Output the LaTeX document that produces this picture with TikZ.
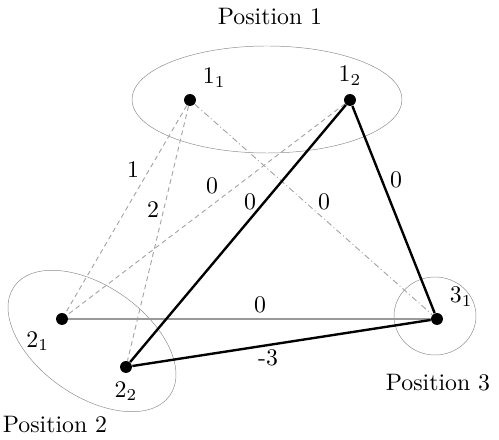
\documentclass[tikz,border=0pt]{standalone}
\usepackage{amsmath}
\usepackage{tikz}
\usetikzlibrary{positioning}

\begin{document}
\begin{tikzpicture}[
  x=4.2pt, y=4.2pt,
  pnt/.style={circle, fill=black, minimum size=5pt, inner sep=0pt},
  grp/.style={draw=black!45, very thin},
  weak/.style={draw=black!35, thin, dash pattern=on 2pt off 1.5pt},
  weakdot/.style={draw=black!35, thin, dash pattern=on 2.5pt off 1.2pt on 0.4pt off 1.2pt},
  plain/.style={draw=black!40, semithick},
  best/.style={draw=black, line width=1pt},
  wlbl/.style={inner sep=1pt},
  lbl/.style={label distance=-2.2pt}
]
  % frame
  \useasboundingbox (0,0) rectangle (49.9,44);

  % Position groups
  \draw[grp] (26.7,34.05) ellipse [x radius=13.5, y radius=5.35];
  \draw[grp, rotate around={-35:(9.2,9.9)}] (9.2,9.9) ellipse [x radius=9.5, y radius=5.5];
  \draw[grp] (43.5,12.4) ellipse [x radius=4.1, y radius=3.9];

  \node (pos1) at (27.0,42.3) {Position 1};
  \node (pos2) at (5.5,1.5) {Position 2};
  \node (pos3) at (43.8,5.7) {Position 3};

  % Points
  \node[pnt, lbl, label=above right:$1_1$] (p11) at (19.0,34.0) {};
  \node[pnt, lbl, label=above:$1_2$] (p12) at (35.0,34.0) {};
  \node[pnt, lbl, label=below left:$2_1$] (p21) at (6.2,12.1) {};
  \node[pnt, lbl, label=below:$2_2$] (p22) at (12.6,7.3) {};
  \node[pnt, lbl, label=above right:$3_1$] (p31) at (43.7,12.1) {};

  % Light edges
  \draw[weak] (p11) -- (p21);
  \draw[weak] (p11) -- (p22);
  \draw[weak] (p12) -- (p21);
  \draw[weakdot] (p11) -- (p31);
  \draw[plain] (p21) -- (p31);

  % Chosen edges
  \draw[best] (p12) -- (p22);
  \draw[best] (p12) -- (p31);
  \draw[best] (p22) -- (p31);

  % Edge weights
  \node[wlbl] (w1121) at (13.3,27.0) {1};
  \node[wlbl] (w1122) at (15.3,23.0) {2};
  \node[wlbl] (w1221) at (21.2,25.4) {0};
  \node[wlbl] (w1222) at (25.0,23.8) {0};
  \node[wlbl] (w1131) at (32.4,23.8) {0};
  \node[wlbl] (w1231) at (39.6,26.0) {0};
  \node[wlbl] (w2131) at (26.0,13.5) {0};
  \node[wlbl] (w2231) at (26.8,8.2) {-3};
\end{tikzpicture}
\end{document}
